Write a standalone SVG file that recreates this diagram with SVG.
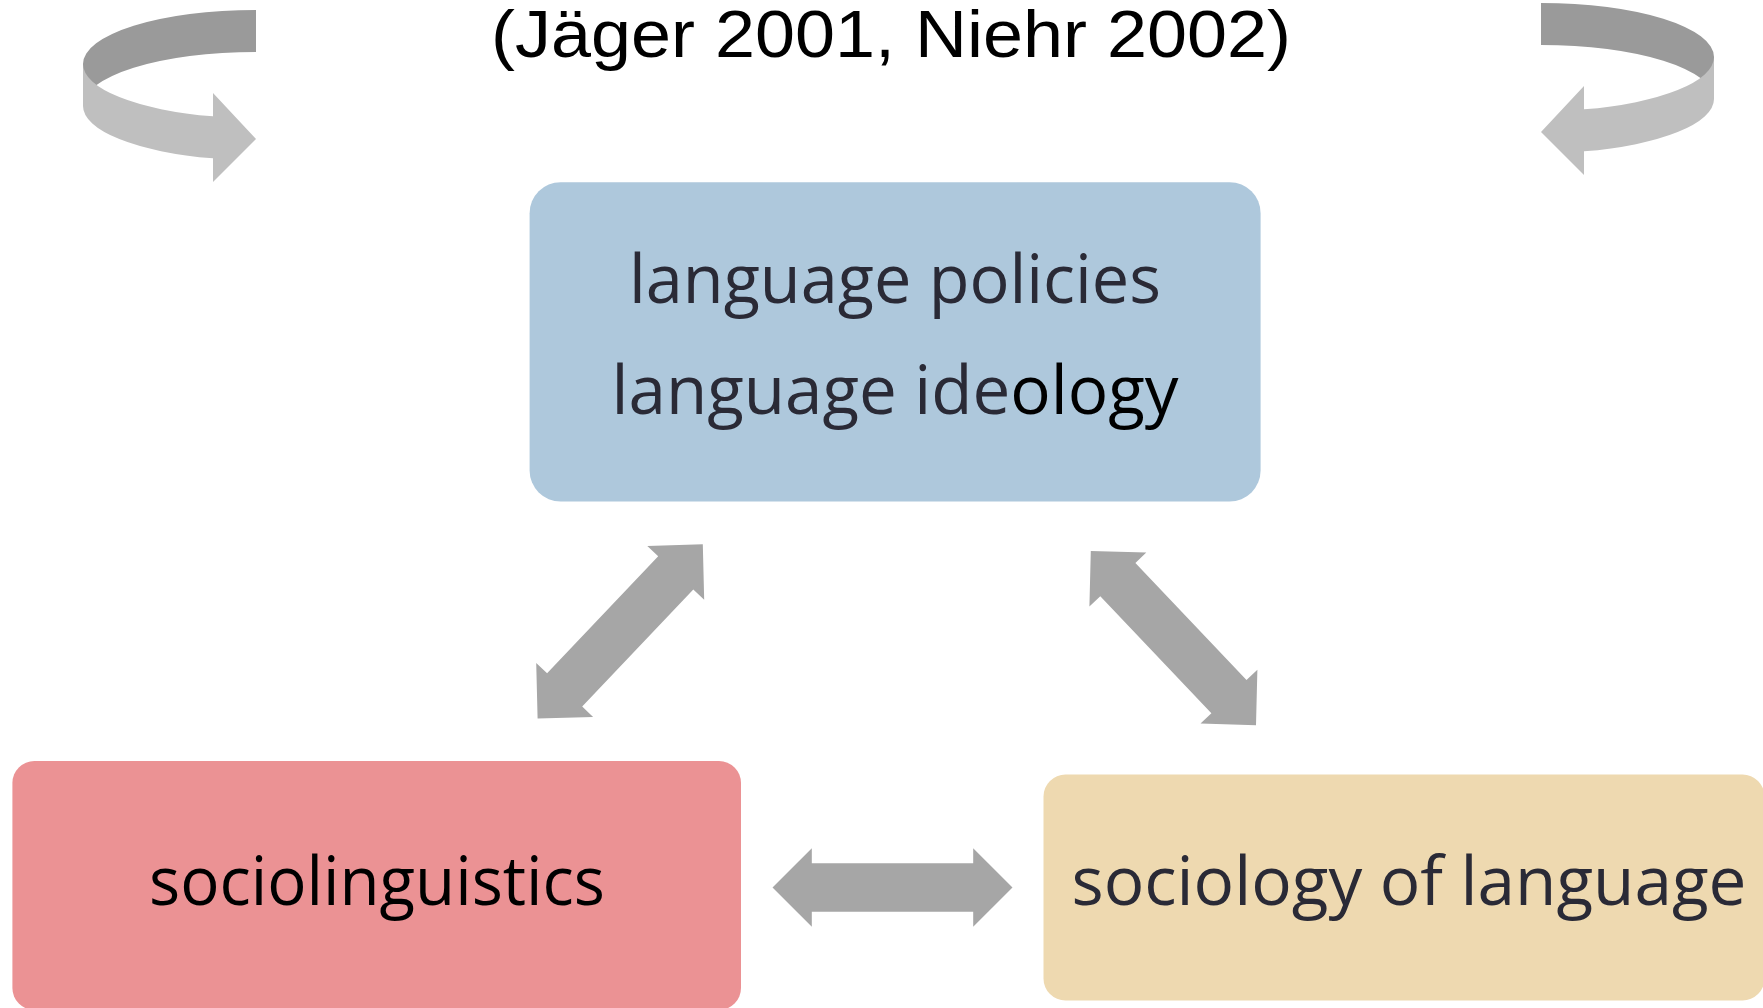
<svg xmlns="http://www.w3.org/2000/svg" xmlns:xlink="http://www.w3.org/1999/xlink" width="1763" height="1008" viewBox="0 0 1763 1008">
  <style>
    .title { font-family: "Liberation Sans", Arial, sans-serif; font-size: 66px; fill: #000000; }
    .label { font-family: "Open Sans", "Noto Sans", sans-serif; font-size: 68px; text-anchor: middle; }
    .slate { fill: #2A2A36; }
    .black { fill: #000000; }
    .band-back { fill: #9A9A9A; }
    .band-front { fill: #BFBFBF; }
    .dbl { fill: #A6A6A6; }
  </style>
  <defs>
    <!-- ribbon-style turning arrow: back band plus front band with head -->
    <g id="turn">
      <path class="band-back" d="M256,10 A173,54 0 0 0 83,64 L83,106 A173,54 0 0 1 256,52 Z"/>
      <path class="band-front" d="M83,64 A173,54 0 0 0 213,116.3 L213,93 L256,139 L213,182 L213,158.3 A173,54 0 0 1 83,106 Z"/>
    </g>
    <!-- double-headed block arrow, centred on the origin -->
    <polygon id="dblArrow" points="-120,0 -80.7,-39.2 -80.7,-24.2 80.7,-24.2 80.7,-39.2 120,0 80.7,39.2 80.7,24.2 -80.7,24.2 -80.7,39.2"/>
  </defs>

  <rect width="1763" height="1008" fill="#FFFFFF"/>

  <g id="title">
    <text class="title" x="891" y="57" text-anchor="middle" textLength="800" lengthAdjust="spacingAndGlyphs">(Jäger 2001, Niehr 2002)</text>
  </g>

  <g id="cycle-arrows">
    <use xlink:href="#turn" href="#turn"/>
    <use xlink:href="#turn" href="#turn" transform="translate(1797,-7) scale(-1,1)"/>
  </g>

  <g id="node-policies">
    <rect x="529.6" y="182.2" width="731" height="319.3" rx="31" ry="31" fill="#AEC8DC"/>
    <text class="label slate" x="895" y="303" textLength="532" lengthAdjust="spacingAndGlyphs">language policies</text>
    <text class="label slate" x="895" y="414" textLength="567" lengthAdjust="spacingAndGlyphs">language ide<tspan class="black">ology</tspan></text>
  </g>

  <g id="node-sociolinguistics">
    <rect x="12.4" y="761" width="728.6" height="249" rx="22" ry="22" fill="#EB9294"/>
    <text class="label black" x="377" y="905" textLength="456" lengthAdjust="spacingAndGlyphs">sociolinguistics</text>
  </g>

  <g id="node-sociology">
    <rect x="1043.5" y="774.5" width="721" height="226" rx="22" ry="22" fill="#EED9B0"/>
    <text class="label slate" x="1409" y="905" textLength="675" lengthAdjust="spacingAndGlyphs">sociology of language</text>
  </g>

  <g id="connectors" class="dbl">
    <use xlink:href="#dblArrow" href="#dblArrow" transform="translate(620.2,631.4) rotate(-46.5)"/>
    <use xlink:href="#dblArrow" href="#dblArrow" transform="translate(1173.4,638.1) rotate(46.5)"/>
    <use xlink:href="#dblArrow" href="#dblArrow" transform="translate(892.5,887.5)"/>
  </g>
</svg>
